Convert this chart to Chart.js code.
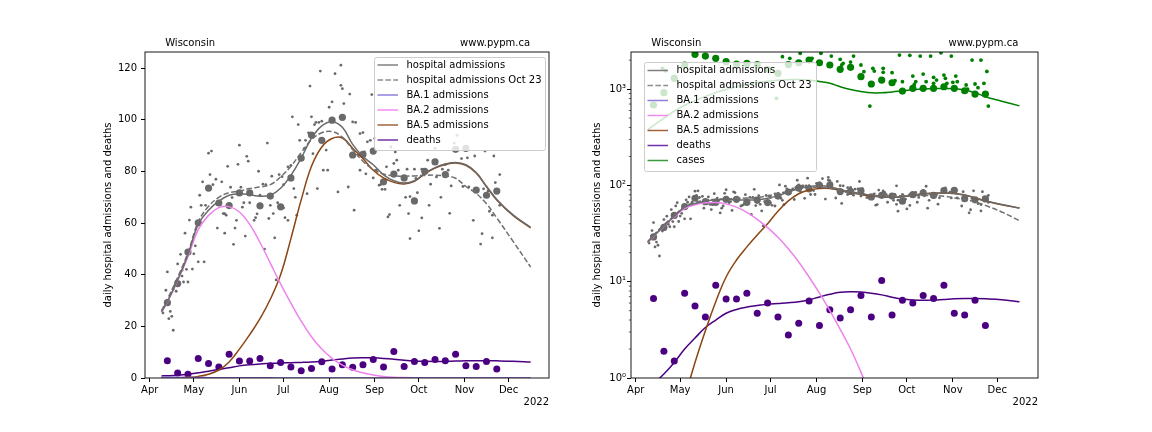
<!DOCTYPE html>
<html>
<head>
<meta charset="utf-8">
<script src="https://cdn.jsdelivr.net/npm/chart.js@4/dist/chart.umd.min.js"></script>
<style>
  body { margin: 0; background: #fff; }
  #wrap { position: relative; width: 1152px; height: 432px; }
  .pane { position: absolute; top: 0; width: 576px; height: 432px; }
</style>
</head>
<body>
<div id="wrap">
  <div class="pane" style="left:0"><canvas id="linChart" width="576" height="432"></canvas></div>
  <div class="pane" style="left:576px"><canvas id="logChart" width="576" height="432"></canvas></div>
</div>
<script>
// days are counted from Apr 1 2022
const monthDays = [0, 30, 61, 91, 122, 153, 183, 214, 244];
const monthNames = ['Apr', 'May', 'Jun', 'Jul', 'Aug', 'Sep', 'Oct', 'Nov', 'Dec'];
const linTicks = [0, 20, 40, 60, 80, 100, 120];
const logTicks = [1, 10, 100, 1000];
const logLabels = ['10\u2070', '10\u00b9', '10\u00b2', '10\u00b3'];
const logMinor = [2, 3, 4, 5, 6, 7, 8, 9, 20, 30, 40, 50, 60, 70, 80, 90, 200, 300, 400, 500, 600, 700, 800, 900, 2000];

// weekly averages
const weekDays = [12, 19, 26, 33, 40, 47, 54, 61, 68, 75, 82, 89, 96, 103, 110, 117, 124, 131, 138, 145, 152, 159, 166, 173, 180, 187, 194, 201, 208, 215, 222, 229, 236];
const hospWeekly = [29.2, 36.6, 48.8, 60.1, 73.6, 67.8, 66.8, 71.7, 71.7, 66.7, 70.5, 66.3, 77.5, 85.2, 94.1, 92.1, 99.9, 101, 86.4, 86.6, 87.9, 76, 79, 77.5, 68.6, 80.1, 83.7, 78.8, 88.6, 89, 72.8, 70.8, 72.4];
const deathsWeekly = [6.7, 1.9, 1.5, 7.6, 5.6, 4.3, 9.2, 6.6, 6.6, 7.6, 4.7, 6.0, 4.3, 2.8, 3.7, 6.3, 3.5, 5.1, 4.2, 5.1, 7.2, 4.3, 10.3, 4.5, 6.4, 6.0, 7.2, 6.7, 9.2, 4.7, 4.5, 6.4, 3.5];
const casesWeekly = [684, 918, 1300, 1780, 2297, 2206, 2089, 1927, 1822, 1850, 1800, 1600, 1460, 1800, 1880, 2005, 1880, 1780, 1607, 1683, 1346, 1130, 1243, 1165, 955, 1019, 1019, 1019, 1059, 1019, 962, 889, 889];

// daily hospital admissions
const hospDays = [9, 11, 12, 13, 14, 15, 16, 16, 18, 18, 19, 21, 22, 22, 23, 24, 25, 26, 27, 28, 29, 30, 31, 33, 34, 35, 36, 37, 38, 40,
  41, 42, 43, 45, 46, 49, 50, 51, 51, 52, 53, 55, 56, 57, 58, 59, 60, 61, 62, 63, 64, 65, 66, 67, 68, 71, 72, 73, 74, 75,
  77, 78, 79, 80, 81, 82, 83, 84, 85, 86, 87, 88, 90, 91, 91, 92, 94, 94, 96, 97, 98, 99, 100, 101, 102, 105, 106, 107, 108, 109,
  110, 111, 112, 113, 114, 115, 116, 117, 118, 120, 121, 122, 124, 126, 128, 130, 130, 131, 132, 135, 136, 138, 139, 140, 142, 143, 143, 145, 146, 147,
  148, 150, 151, 152, 153, 154, 156, 157, 158, 160, 161, 162, 163, 164, 166, 167, 168, 169, 170, 174, 175, 176, 176, 177, 177, 180, 181, 182, 183, 185,
  185, 189, 190, 191, 194, 195, 196, 197, 198, 199, 201, 203, 204, 205, 207, 209, 212, 213, 216, 217, 220, 221, 225, 226, 227, 228, 230, 231, 233, 233,
  234, 235, 237, 238, 238];
const hospDaily = [25.2, 34.0, 41.1, 23.0, 25.8, 23.9, 18.5, 34.4, 33.6, 37.5, 44.2, 47.9, 39.5, 41.7, 37.2, 56.1, 42.1, 37.2, 61.2, 66.2, 42.2, 48.1, 51.2, 45.0, 70.8, 66.9, 76.0, 45.0, 66.9, 87.1,
  78.8, 87.9, 74.9, 77.0, 58.1, 76.0, 63.7, 63.7, 56.1, 63.1, 82.0, 73.9, 69.9, 51.8, 58.1, 61.1, 82.8, 90.2, 73.9, 66.2, 67.9, 55.0, 85.9, 84.0, 67.9, 61.1, 62.1, 63.6, 80.1, 70.8,
  75.1, 49.9, 74.9, 91.0, 61.8, 66.9, 78.2, 63.7, 54.3, 38.0, 67.9, 78.8, 78.0, 65.9, 74.9, 62.1, 81.8, 61.1, 82.4, 101.2, 73.4, 70.0, 63.1, 98.2, 92.1, 88.9, 92.1, 71.4, 95.0, 113.1,
  101.2, 86.9, 98.2, 99.0, 73.4, 99.0, 118.9, 99.5, 80.5, 88.3, 80.5, 104.9, 107.0, 117.9, 72.1, 121.2, 113.4, 112.1, 106.3, 74.0, 110.0, 99.2, 65.0, 99.0, 86.3, 80.5, 94.7, 95.1, 87.6, 79.1,
  91.5, 92.1, 109.8, 77.5, 92.8, 80.5, 74.7, 74.9, 73.1, 73.1, 81.8, 62.4, 63.3, 89.5, 83.1, 87.6, 84.4, 80.5, 66.9, 70.0, 80.9, 63.7, 99.0, 54.0, 70.3, 80.9, 77.3, 71.8, 57.0, 62.0,
  80.9, 84.4, 66.9, 75.1, 89.0, 77.9, 98.0, 58.0, 70.0, 80.9, 82.7, 80.5, 63.8, 74.4, 91.0, 94.0, 85.0, 74.2, 85.3, 74.0, 61.1, 86.0, 51.9, 55.9, 73.3, 87.9, 72.4, 64.6, 63.1, 54.3,
  86.0, 75.7, 72.1, 66.9, 78.8];

// daily cases (only those inside the plot)
const caseDays = [18, 20, 95, 99, 104, 111, 119, 125, 132, 138, 139, 140, 145, 147, 152, 154, 158, 160, 161, 167, 167, 173, 175, 178, 180, 185, 187, 188, 189, 192,
  194, 196, 199, 201, 201, 203, 206, 208, 209, 210, 213, 214, 216, 217, 223, 224, 227, 229, 231, 233, 235, 237, 238];
const casesDaily = [1643, 1552, 802, 2171, 2089, 2352, 2089, 2352, 2206, 2040, 1780, 1852, 1911, 2206, 1780, 1517, 667, 1643, 1541, 1494, 1643, 1482, 1222, 2260, 1194, 2244, 1368, 1120, 1194, 2206,
  1435, 1194, 2206, 1148, 1325, 1243, 2388, 1400, 1294, 1148, 2206, 1176, 1368, 1194, 1104, 1002, 2005, 1130, 1035, 2005, 1148, 1528, 667];

// model curves
const fitDays = [8, 12, 19, 26, 33, 40, 47, 54, 61, 68, 75, 82, 89, 96, 103, 110, 117, 124, 131, 138, 145, 152, 159, 166, 173, 180, 187, 194, 201, 208, 215, 222, 229, 236, 247, 259];
const hospFit = [25.7, 29.6, 38, 47.8, 59.5, 65, 68.5, 70.8, 71.4, 71, 70.4, 70.8, 73.5, 78.5, 85.2, 92.9, 97.7, 99.3, 97.1, 90.5, 85.8, 82.6, 78.7, 76.4, 75.5, 76.4, 79.3, 81.5, 82.9, 83.5, 82.6, 79.6, 74.3, 69.2, 63.2, 58.4];
const hospOct23 = [26, 30.5, 39, 48.5, 60.5, 66.5, 70, 71.8, 72.4, 73.4, 74, 74.9, 77.9, 82, 87.3, 92.3, 95, 95.5, 93.3, 88.5, 84, 80.8, 79, 78.3, 78.2, 78.3, 78.5, 78.6, 78.3, 77.4, 74.2, 71.5, 67.5, 62, 53, 43];
const ba1Fit = [0.3, 0.28, 0.25, 0.2, 0.17, 0.14, 0.12, 0.1, 0.08, 0.07, 0.06, 0.05, 0.04, 0.035, 0.03, 0.025, 0.02, 0.018, 0.015, 0.013, 0.011, 0.01, 0.009, 0.008, 0.007, 0.006, 0.005, 0.005, 0.004, 0.004, 0.003, 0.003, 0.003, 0.002, 0.002, 0.002];
const ba2Fit = [25.5, 29.4, 37.7, 47, 57.5, 63, 66, 66.4, 64.3, 59.5, 52.5, 44.5, 36.5, 29, 22, 16, 11.2, 7.6, 5.0, 3.2, 2.0, 1.15, 0.62, 0.3, 0.15, 0.08, 0.04, 0.02, 0.01, 0.005, 0.003, 0.002, 0.001, 0.0007, 0.0004, 0.0003];
const ba5Fit = [0.03, 0.05, 0.12, 0.28, 0.62, 1.45, 3.1, 6.2, 11.2, 16.8, 23, 30.5, 40, 54, 69, 82, 89.5, 92.8, 93, 89, 85, 80.5, 77.5, 75.8, 75.2, 76.2, 79.1, 81.3, 82.7, 83.3, 82.4, 79.4, 74.1, 69, 63, 58.2];
const deathsFit = [0.8, 0.88, 1.1, 1.45, 2.0, 2.6, 3.35, 4.0, 4.7, 5.15, 5.45, 5.65, 5.85, 5.95, 6.05, 6.2, 6.5, 6.95, 7.4, 7.75, 7.85, 7.8, 7.6, 7.3, 6.9, 6.6, 6.45, 6.4, 6.45, 6.55, 6.65, 6.7, 6.7, 6.65, 6.5, 6.2];
const casesFit = [376, 420, 500, 590, 680, 760, 840, 920, 990, 1060, 1120, 1170, 1210, 1240, 1255, 1260, 1245, 1200, 1150, 1060, 990, 945, 915, 915, 935, 960, 985, 1005, 1017, 1017, 1010, 980, 920, 835, 750, 670];

Chart.defaults.font.family = 'DejaVu Sans';
Chart.defaults.font.size = 10;
Chart.defaults.color = '#000';

const xMin = -3.2, xMax = 271.5;

function pts(xs, ys) {
    return xs.map((x, i) => ({ x: x, y: ys[i] }));
}

function lineSet(ys, color, dash) {
    return {
        data: pts(fitDays, ys), showLine: true, borderColor: color, borderWidth: 1.5,
        borderDash: dash || [], pointRadius: 0, tension: 0.4, order: 1
    };
}

function dotSet(xs, ys, color, r) {
    return {
        data: pts(xs, ys), showLine: false, backgroundColor: color, pointBorderWidth: 0,
        pointRadius: r, pointHoverRadius: r, order: 2
    };
}

const baseItems = [
    { label: 'hospital admissions', color: '#808080' },
    { label: 'hospital admissions Oct 23', color: '#8c8c8c', dash: [5.5, 2.4] },
    { label: 'BA.1 admissions', color: '#8f7fe0' },
    { label: 'BA.2 admissions', color: '#f08cf0' },
    { label: 'BA.5 admissions', color: '#a0643c' },
    { label: 'deaths', color: '#7033a6' }
];

// frame, legend and the loose texts
function decor(cfg) {
    return {
        id: 'decor',
        afterDatasetsDraw(chart) {
            const a = chart.chartArea, ctx = chart.ctx;
            ctx.save();
            ctx.strokeStyle = '#000';
            ctx.lineWidth = 0.9;
            ctx.strokeRect(a.left, a.top, a.right - a.left, a.bottom - a.top);
            if (cfg.minor) {
                const y = chart.scales.y;
                ctx.lineWidth = 0.6;
                logMinor.forEach(v => {
                    const py = y.getPixelForValue(v);
                    ctx.beginPath();
                    ctx.moveTo(a.left, py);
                    ctx.lineTo(a.left - 2.2, py);
                    ctx.stroke();
                });
            }
            ctx.restore();
        },
        afterDraw(chart) {
            const a = chart.chartArea, ctx = chart.ctx;
            const L = cfg.legend;
            ctx.save();
            // legend box
            ctx.fillStyle = 'rgba(255,255,255,0.8)';
            ctx.strokeStyle = '#cccccc';
            ctx.lineWidth = 1;
            ctx.beginPath();
            ctx.roundRect(L.x + 0.5, L.y + 0.5, L.w, L.h, 2);
            ctx.fill();
            ctx.stroke();
            ctx.font = '10px "DejaVu Sans"';
            ctx.textBaseline = 'middle';
            ctx.textAlign = 'left';
            L.items.forEach((it, i) => {
                const yy = L.y + L.first + i * L.step;
                ctx.strokeStyle = it.color;
                ctx.lineWidth = 1.5;
                ctx.setLineDash(it.dash || []);
                ctx.beginPath();
                ctx.moveTo(L.x + 3.5, yy);
                ctx.lineTo(L.x + 24, yy);
                ctx.stroke();
                ctx.setLineDash([]);
                ctx.fillStyle = '#000';
                ctx.fillText(it.label, L.x + 32.5, yy);
            });
            // titles above the plot
            const w = a.right - a.left;
            ctx.fillStyle = '#000';
            ctx.textBaseline = 'alphabetic';
            ctx.fillText('Wisconsin', a.left + 0.05 * w, a.top - 6);
            ctx.fillText('www.pypm.ca', a.left + 0.78 * w, a.top - 6);
            ctx.textAlign = 'right';
            ctx.textBaseline = 'middle';
            ctx.fillText('2022', a.right, 402);
            // y axis label
            ctx.translate(cfg.ylabelX, (a.top + a.bottom) / 2);
            ctx.rotate(-Math.PI / 2);
            ctx.textAlign = 'center';
            ctx.fillText('daily hospital admissions and deaths', 0, 0);
            ctx.restore();
        }
    };
}

function xScale() {
    return {
        type: 'linear', min: xMin, max: xMax,
        afterBuildTicks: s => { s.ticks = monthDays.map(v => ({ value: v })); },
        afterFit: s => { s.height = 54; },
        ticks: { autoSkip: false, maxRotation: 0, padding: 2, callback: v => monthNames[monthDays.indexOf(v)] },
        grid: { drawOnChartArea: false, tickLength: 4, color: '#000' },
        border: { display: false }
    };
}

const common = {
    responsive: false,
    animation: false,
    devicePixelRatio: 1,
    events: [],
    plugins: { legend: { display: false }, tooltip: { enabled: false } }
};

// left: linear scale
new Chart(document.getElementById('linChart'), {
    type: 'scatter',
    data: {
        datasets: [
            lineSet(hospFit, '#6a6a6a'),
            lineSet(hospOct23, '#707070', [5.5, 2.4]),
            lineSet(ba1Fit, '#9370db'),
            lineSet(ba2Fit, '#ee82ee'),
            lineSet(ba5Fit, '#8b4513'),
            lineSet(deathsFit, '#4b0082'),
            dotSet(weekDays, hospWeekly, '#696969', 3.6),
            dotSet(hospDays, hospDaily, '#696969', 1.4),
            dotSet(weekDays, deathsWeekly, '#4b0082', 3.5)
        ]
    },
    options: Object.assign({}, common, {
        layout: { padding: { left: 0, right: 27, top: 52, bottom: 0 } },
        scales: {
            x: xScale(),
            y: {
                type: 'linear', min: 0, max: 126.3,
                afterBuildTicks: s => { s.ticks = linTicks.map(v => ({ value: v })); },
                afterFit: s => { s.width = 145; },
                ticks: { padding: 4 },
                grid: { drawOnChartArea: false, tickLength: 4, color: '#000' },
                border: { display: false }
            }
        }
    }),
    plugins: [decor({
        ylabelX: 108,
        legend: { x: 374, y: 57, w: 171, h: 93, first: 8, step: 15, items: baseItems }
    })]
});

// right: log scale
new Chart(document.getElementById('logChart'), {
    type: 'scatter',
    data: {
        datasets: [
            lineSet(hospFit, '#6a6a6a'),
            lineSet(hospOct23, '#707070', [5.5, 2.4]),
            lineSet(ba1Fit, '#9370db'),
            lineSet(ba2Fit, '#ee82ee'),
            lineSet(ba5Fit, '#8b4513'),
            lineSet(deathsFit, '#4b0082'),
            lineSet(casesFit, '#008000'),
            dotSet(weekDays, hospWeekly, '#696969', 3.6),
            dotSet(hospDays, hospDaily, '#696969', 1.4),
            dotSet(weekDays, deathsWeekly, '#4b0082', 3.5),
            dotSet(weekDays, casesWeekly, '#008000', 3.6),
            dotSet(caseDays, casesDaily, '#008000', 1.9)
        ]
    },
    options: Object.assign({}, common, {
        layout: { padding: { left: 0, right: 114, top: 52, bottom: 0 } },
        scales: {
            x: xScale(),
            y: {
                type: 'logarithmic', min: 1, max: 2430,
                afterBuildTicks: s => { s.ticks = logTicks.map(v => ({ value: v })); },
                afterFit: s => { s.width = 55; },
                ticks: { padding: 1, callback: v => logLabels[logTicks.indexOf(v)] },
                grid: { drawOnChartArea: false, tickLength: 4, color: '#000' },
                border: { display: false }
            }
        }
    }),
    plugins: [decor({
        ylabelX: 21,
        minor: true,
        legend: { x: 68, y: 62, w: 172, h: 109, first: 8.5, step: 15, items: baseItems.concat([{ label: 'cases', color: '#3a9a3a' }]) }
    })]
});
</script>
</body>
</html>
